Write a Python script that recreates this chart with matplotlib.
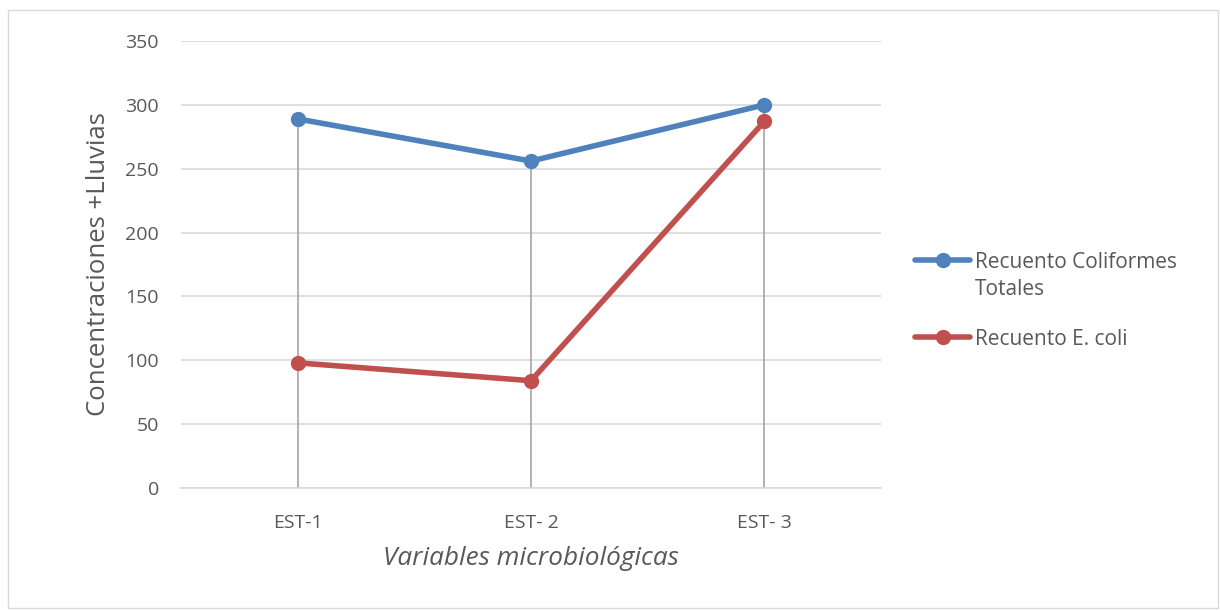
import matplotlib
matplotlib.use("Agg")
import matplotlib.pyplot as plt
from matplotlib.patches import Rectangle
from matplotlib.lines import Line2D

categories = ["EST-1", "EST- 2", "EST- 3"]
coliformes = [289, 256, 300]
ecoli = [98, 84, 287]
yticks = [0, 50, 100, 150, 200, 250, 300, 350]
series_names = ["Recuento Coliformes\nTotales", "Recuento E. coli"]

plt.rcParams['font.family'] = ['Open Sans', 'DejaVu Sans']
txt = '#595959'

fig = plt.figure(figsize=(12.2, 6.11), dpi=100)
ax = fig.add_axes([181/1220, 1-488/611, 700/1220, 447/611])

x = list(range(len(categories)))
# drop lines
for xi, a, b in zip(x, coliformes, ecoli):
    ax.plot([xi, xi], [0, max(a, b)], color='#a6a6a6', lw=1.2, zorder=2)

blue = '#4f81bd'
red = '#c0504d'
ax.plot(x, coliformes, color=blue, lw=4, marker='o', ms=10, zorder=4, solid_capstyle='round')
ax.plot(x, ecoli, color=red, lw=4, marker='o', ms=10, zorder=3, solid_capstyle='round')

ax.set_xlim(-0.5, 2.5)
ax.set_ylim(0, 350)
ax.set_yticks(yticks)
ax.set_xticks(x)
ax.set_xticklabels(categories)
ax.yaxis.grid(True, color='#d9d9d9', lw=1.2)
ax.set_axisbelow(True)
for s in ['top', 'right', 'left']:
    ax.spines[s].set_visible(False)
ax.spines['bottom'].set_color('#d9d9d9')
ax.spines['bottom'].set_linewidth(1.2)
ax.tick_params(axis='both', length=0, labelsize=14, colors=txt)
ax.tick_params(axis='y', pad=16)
ax.tick_params(axis='x', pad=19)

ax.set_ylabel("Concentraciones +Lluvias", fontsize=18.5, color=txt, labelpad=10)
ax.set_xlabel("Variables microbiológicas", fontsize=18.8, color=txt, style='italic', labelpad=10)

# legend drawn manually (handle aligned with first text line)
leg_fs = 15
for name, col, yc in zip(series_names, [blue, red], [260, 337]):
    yf = 1 - yc/611
    fig.add_artist(Line2D([915/1220, 970/1220], [yf, yf], color=col, lw=4,
                          transform=fig.transFigure, solid_capstyle='round'))
    fig.add_artist(Line2D([942.5/1220], [yf], color=col, marker='o', ms=10,
                          transform=fig.transFigure))
    fig.text(975/1220, 1 - (yc - 8)/611, name, fontsize=leg_fs, color=txt, va='top',
             ha='left', linespacing=1.35, transform=fig.transFigure)

fig.patches.append(Rectangle((8/1220, 3/611), 1210/1220, 598/611, transform=fig.transFigure,
                             fill=False, edgecolor='#d9d9d9', lw=1))

fig.savefig("out.png", dpi=100, facecolor='white')
